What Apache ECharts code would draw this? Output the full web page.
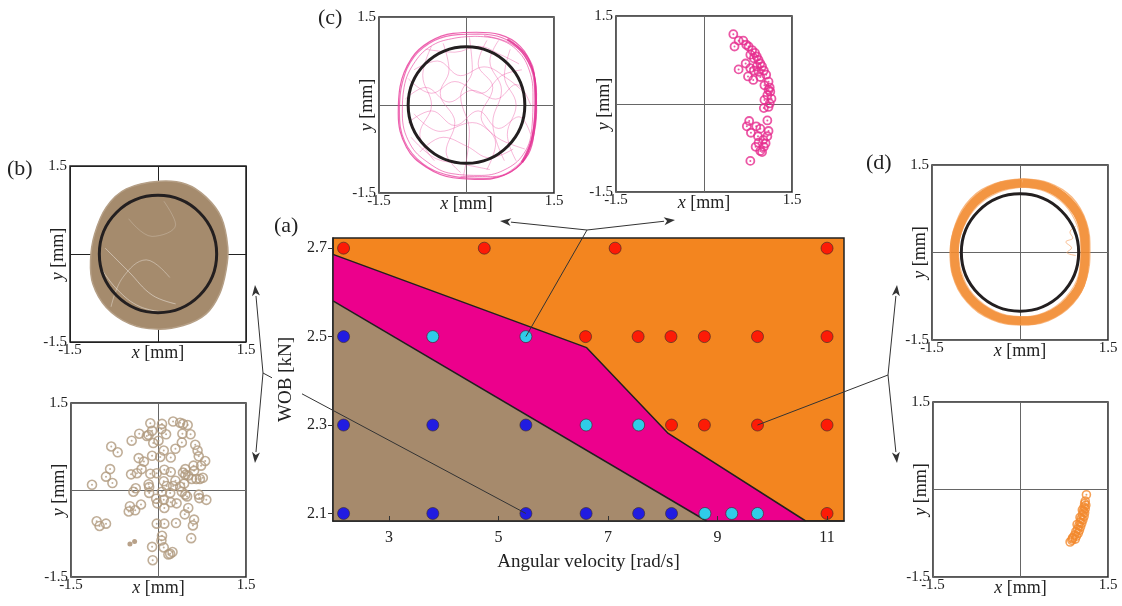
<!DOCTYPE html>
<html>
<head>
<meta charset="utf-8">
<script src="https://cdn.jsdelivr.net/npm/echarts@6/dist/echarts.min.js"></script>
<style>
  html, body { margin: 0; padding: 0; background: #fff; }
  #main { width: 1122px; height: 606px; }
</style>
</head>
<body>
<div id="main"></div>
<script>
'use strict';
var SERIF = '"Liberation Serif", "DejaVu Serif", serif';

// ---- (a) operating map ----
var xTicks = [3, 5, 7, 9, 11];
var yTicks = [2.1, 2.3, 2.5, 2.7];
var redRuns = [[2.17,2.7],[4.74,2.7],[7.13,2.7],[11,2.7],
  [6.59,2.5],[7.55,2.5],[8.15,2.5],[8.76,2.5],[9.73,2.5],[11,2.5],
  [8.16,2.3],[8.76,2.3],[9.73,2.3],[11,2.3],[11,2.1]];
var cyanRuns = [[3.8,2.5],[5.5,2.5],[6.6,2.3],[7.56,2.3],[8.77,2.1],[9.26,2.1],[9.73,2.1]];
var blueRuns = [[2.17,2.5],[2.17,2.3],[3.8,2.3],[5.5,2.3],
  [2.17,2.1],[3.8,2.1],[5.5,2.1],[6.6,2.1],[7.56,2.1],[8.16,2.1]];
var upperBoundary = [[1.977,2.686],[6.61,2.475],[8.10,2.281],[10.61,2.083]];
var lowerBoundary = [[1.977,2.581],[8.80,2.083]];

// ---- (b) ----
var bBlob = [[0.03,1.24],[0.48,1.19],[0.82,0.97],[1.08,0.62],[1.19,0.11],[1.16,-0.28],[1.05,-0.68],
  [0.82,-1.02],[0.43,-1.22],[-0.03,-1.28],[-0.48,-1.19],[-0.88,-0.91],[-1.11,-0.51],[-1.15,-0.11],
  [-1.08,0.34],[-0.88,0.80],[-0.54,1.11]];
var bStreak1 = [[-1.0,-0.2],[-0.7,-0.6],[-0.3,-0.9],[0.2,-1.0]];
var bStreak2 = [[-0.9,0.1],[-0.5,-0.3],[-0.1,-0.7],[0.3,-0.85]];
var bStreak3 = [[-0.8,-0.9],[-0.6,-0.4],[-0.2,-0.1],[0.2,-0.4]];
var bStreak4 = [[-0.5,0.6],[-0.1,0.3],[0.3,0.5],[0.1,0.9]];
var bPoints = [[-0.14,1.15],[0.06,1.14],[0.25,1.18],[0.37,1.16],[0.42,1.14],[0.50,1.12],[0.05,1.05],
  [-0.11,1.02],[-0.17,0.95],[-0.33,0.97],[-0.2,0.93],[0.13,0.96],[0.41,0.97],[0.55,0.96],[-0.46,0.85],
  [0,0.85],[-0.09,0.81],[0.40,0.82],[0.63,0.78],[-0.81,0.75],[-0.70,0.65],[0.09,0.68],[0.29,0.71],
  [0.67,0.68],[0.69,0.58],[-0.34,0.55],[-0.25,0.49],[-0.11,0.59],[0.03,0.57],[0.21,0.56],[0.80,0.50],
  [0.60,0.42],[0.73,0.42],[0.46,0.36],[0.61,0.33],[-0.83,0.36],[-0.90,0.23],[-0.79,0.12],[-1.14,0.09],
  [-0.47,0.27],[-0.37,0.29],[-0.29,0.36],[-0.14,0.28],[-0.03,0.29],[0.10,0.35],[0.21,0.31],[0.09,0.15],
  [0.14,0.07],[0.25,0.07],[0.29,0.16],[0.37,0.06],[0.44,0.11],[0.46,0.26],[0.51,0.25],[0.57,0.19],
  [0.65,0.19],[0.71,0.19],[0.76,0.21],[0.42,0.30],[-0.17,0.10],[-0.16,0.05],[-0.39,0.03],[-0.43,-0.03],
  [-0.16,-0.05],[0.06,-0.03],[0.2,-0.05],[0.40,-0.03],[0.46,-0.08],[0.49,-0.11],[0.69,-0.08],[0.70,-0.14],
  [0.82,-0.17],[-0.04,-0.15],[-0.02,-0.23],[0.09,-0.17],[0.10,-0.31],[0.21,-0.21],[0.31,-0.23],
  [-0.30,-0.25],[-0.49,-0.28],[-0.51,-0.37],[-0.40,-0.35],[0.51,-0.31],[0.45,-0.42],[0.61,-0.51],
  [0.59,-0.61],[-1.06,-0.54],[-1.01,-0.62],[-0.90,-0.58],[-0.03,-0.58],[0.10,-0.58],[0.30,-0.57],
  [0.06,-0.79],[0.05,-0.87],[0.56,-0.83],[-0.11,-0.98],[0.09,-0.99],[0.24,-1.07],[0.17,-1.11],
  [0.20,-1.10],[-0.10,-1.21]];
var bSmall = [[-0.49,-0.93],[-0.41,-0.89]];

// ---- (c) ----
var cLoopA = [[0.17,1.24],[0.57,1.20],[0.92,1.00],[1.12,0.65],[1.20,0.19],[1.17,-0.38],[1.06,-0.84],
  [0.74,-1.15],[0.29,-1.27],[-0.23,-1.24],[-0.69,-1.06],[-1.03,-0.72],[-1.17,-0.15],[-1.14,0.31],
  [-0.94,0.80],[-0.63,1.08],[-0.23,1.22],[0.17,1.24]];
var cLoopB = [[0.15,1.17],[0.55,1.12],[0.88,0.92],[1.08,0.58],[1.14,0.15],[1.12,-0.40],[1.00,-0.80],
  [0.70,-1.08],[0.25,-1.20],[-0.25,-1.17],[-0.66,-0.98],[-0.97,-0.66],[-1.10,-0.15],[-1.07,0.30],
  [-0.88,0.74],[-0.58,1.02],[-0.2,1.14],[0.15,1.17]];
var cLoopC = [[0.2,1.21],[0.6,1.15],[0.95,0.93],[1.16,0.55],[1.18,0.1],[1.14,-0.45],[1.02,-0.88],
  [0.68,-1.18],[0.2,-1.25],[-0.3,-1.2],[-0.75,-1.0],[-1.06,-0.62],[-1.15,-0.1],[-1.1,0.38],
  [-0.9,0.82],[-0.55,1.1],[-0.15,1.2],[0.2,1.21]];
var cLoopD = [[0.3,1.18],[0.75,1.05],[1.05,0.75],[1.18,0.3],[1.16,-0.25],[1.08,-0.7],[0.85,-1.05],
  [0.45,-1.22],[-0.1,-1.22]];
var cEdge = [[0.7,1.12],[1.0,0.85],[1.17,0.4],[1.19,-0.1],[1.12,-0.6],[0.95,-0.98]];
var cPath1 = [[-0.9,0.6],[-0.5,0.75],[-0.1,0.5],[0.3,0.65],[0.7,0.45],[1.0,0.2]];
var cPath2 = [[-1.0,-0.3],[-0.6,-0.1],[-0.2,-0.35],[0.2,-0.1],[0.55,-0.4],[0.9,-0.2],[1.1,-0.5]];
var cPath3 = [[-0.4,1.05],[-0.3,0.6],[-0.45,0.2],[-0.2,-0.3],[-0.35,-0.8],[-0.1,-1.15]];
var cPath4 = [[0.35,1.1],[0.2,0.7],[0.45,0.3],[0.25,-0.2],[0.5,-0.65],[0.35,-1.1]];
var cPath5 = [[-0.8,-0.8],[-0.4,-0.55],[0.0,-0.7],[0.4,-0.9],[0.8,-0.75]];
var cPath6 = [[-0.7,0.95],[-0.2,0.9],[0.2,1.0],[0.6,0.85],[0.9,0.7]];
var cPath7 = [[-1.05,0.1],[-0.7,0.3],[-0.3,0.05],[0.1,0.25],[0.5,0.1],[0.85,0.35],[1.1,0.0]];
var cPath8 = [[0.75,0.95],[0.65,0.5],[0.85,0.0],[0.7,-0.5],[0.85,-0.95]];
var cPath9 = [[-0.95,-0.55],[-0.55,-0.9],[-0.1,-1.0],[0.4,-1.1]];
var cPath10 = [[-0.6,1.0],[-0.75,0.5],[-0.6,0.0],[-0.8,-0.5],[-0.55,-0.95]];
var cPath11 = [[0.05,1.15],[0.1,0.6],[-0.1,0.15],[0.05,-0.45],[-0.05,-1.2]];
var cPath12 = [[-1.0,0.45],[-0.6,0.2],[-0.2,0.4],[0.25,0.2],[0.6,0.5],[0.95,0.6]];
var cPath13 = [[-0.9,-0.15],[-0.45,-0.45],[0.1,-0.3],[0.6,-0.6],[1.0,-0.75]];
var cPath14 = [[0.55,1.1],[0.4,0.75],[0.6,0.25],[0.45,-0.3],[0.65,-0.95]];
var cPoints = [[0.50,1.19],[0.52,0.98],[0.59,1.08],[0.67,1.08],[0.72,1.01],[0.76,0.98],[0.82,0.92],
  [0.87,0.87],[0.90,0.81],[0.93,0.75],[0.96,0.69],[0.99,0.64],[1.02,0.57],[1.06,0.50],[1.10,0.38],
  [1.12,0.28],[1.13,0.21],[1.15,0.09],[1.12,0.01],[1.10,-0.05],[1.03,0.07],[1.02,-0.07],[1.08,0.15],
  [1.03,0.32],[1.10,0.24],[0.85,0.78],[0.79,0.84],[0.71,0.69],[0.59,0.59],[0.75,0.47],[0.84,0.41],
  [0.85,0.57],[0.93,0.55],[0.96,0.46],[0.90,0.64],[0.79,0.61],
  [0.77,-0.29],[0.73,-0.38],[0.80,-0.49],[0.89,-0.38],[0.96,-0.42],[1.08,-0.28],[1.10,-0.46],
  [1.08,-0.55],[1.01,-0.61],[0.93,-0.66],[0.88,-0.73],[0.96,-0.80],[1.02,-0.73],[1.05,-0.67],
  [0.79,-0.97],[0.92,-0.55],[0.99,-0.82]];

// ---- (d) ----
var dRingOuter = [[0.06,1.26],[0.5,1.19],[0.88,0.95],[1.13,0.52],[1.19,0.04],[1.13,-0.45],[0.9,-0.88],
  [0.48,-1.17],[0.0,-1.24],[-0.48,-1.15],[-0.9,-0.85],[-1.15,-0.38],[-1.19,-0.02],[-1.1,0.48],
  [-0.84,0.92],[-0.43,1.18],[0.06,1.26]];
var dRingMid = [[0.05,1.19],[0.46,1.12],[0.82,0.88],[1.06,0.49],[1.11,0.05],[1.07,-0.42],[0.84,-0.83],
  [0.45,-1.10],[0.0,-1.17],[-0.45,-1.08],[-0.85,-0.79],[-1.08,-0.36],[-1.12,0.02],[-1.03,0.46],
  [-0.78,0.86],[-0.4,1.11],[0.05,1.19]];
var dRingInner = [[0.03,1.12],[0.42,1.05],[0.76,0.82],[0.98,0.45],[1.04,0.05],[1.0,-0.38],[0.78,-0.77],
  [0.42,-1.03],[0.0,-1.10],[-0.42,-1.01],[-0.8,-0.72],[-1.0,-0.33],[-1.05,0.05],[-0.96,0.44],
  [-0.72,0.8],[-0.37,1.03],[0.03,1.12]];
var dSquiggle = [[0.95,0.45],[0.85,0.35],[0.9,0.25],[0.78,0.18],[0.88,0.08],[0.8,0.0],[0.95,-0.05]];
var dPoints = [[1.13,-0.09],[1.11,-0.20],[1.10,-0.24],[1.12,-0.27],[1.09,-0.30],[1.11,-0.33],[1.08,-0.37],
  [1.10,-0.40],[1.06,-0.43],[1.09,-0.46],[1.04,-0.50],[1.07,-0.52],[1.02,-0.56],[1.05,-0.58],[1.00,-0.62],
  [1.03,-0.64],[0.98,-0.68],[1.01,-0.70],[0.95,-0.72],[0.99,-0.75],[0.93,-0.78],[0.96,-0.80],[0.90,-0.82],
  [0.94,-0.85],[0.88,-0.87],[0.85,-0.90],[0.89,-0.84],[1.06,-0.35],[1.02,-0.48],[0.97,-0.60]];

var refCircle = [[0, 0, 1]];

var ORANGE = '#f3851f', MAGENTA = '#ec008c', BROWN = '#a68a6c';

var subGrids = [
  {left: 70, top: 166, width: 176, height: 176},   // b top
  {left: 71, top: 403, width: 175, height: 174},   // b bottom
  {left: 379, top: 17, width: 175, height: 176},   // c left
  {left: 616, top: 16, width: 176, height: 176},   // c right
  {left: 932, top: 165, width: 176, height: 175},  // d top
  {left: 933, top: 402, width: 175, height: 175}   // d bottom
];

var grids = [{left: 333, top: 238, width: 511, height: 283, show: true,
  backgroundColor: ORANGE, borderColor: '#222', borderWidth: 1.5, outerBoundsMode: 'none'}];
subGrids.forEach(function (g) {
  grids.push(Object.assign({show: true, backgroundColor: '#fff', borderColor: '#222',
    borderWidth: 1.5, outerBoundsMode: 'none'}, g));
});

var nameStyle = {fontFamily: SERIF, fontSize: 18, color: '#222',
  rich: {i: {fontFamily: SERIF, fontSize: 18, fontStyle: 'italic', color: '#222'}}};
var subLabel = {fontFamily: SERIF, fontSize: 15, color: '#222',
  formatter: function (v) { return v === 0 ? '' : String(v); }};

var xAxes = [{
  type: 'value', gridIndex: 0, min: 1.977, max: 11.31, z: 5,
  name: 'Angular velocity [rad/s]', nameLocation: 'middle', nameGap: 32,
  nameTextStyle: {fontFamily: SERIF, fontSize: 19, color: '#222'},
  axisLine: {show: true, onZero: false, lineStyle: {color: '#222', width: 1.5}},
  axisTick: {show: true, inside: true, length: 5, customValues: xTicks, lineStyle: {color: '#333'}},
  axisLabel: {customValues: xTicks, fontFamily: SERIF, fontSize: 16, color: '#222', margin: 9},
  splitLine: {show: false}
}];
var yAxes = [{
  type: 'value', gridIndex: 0, min: 2.083, max: 2.723, z: 5,
  name: 'WOB [kN]', nameLocation: 'middle', nameGap: 37, nameRotate: 90,
  nameTextStyle: {fontFamily: SERIF, fontSize: 19, color: '#222'},
  axisLine: {show: true, onZero: false, lineStyle: {color: '#222', width: 1.5}},
  axisTick: {show: true, inside: false, length: 5, customValues: yTicks, lineStyle: {color: '#333'}},
  axisLabel: {customValues: yTicks, fontFamily: SERIF, fontSize: 16, color: '#222', margin: 6,
    formatter: function (v) { return v.toFixed(1); }},
  splitLine: {show: false}
}];
for (var i = 1; i <= 6; i++) {
  var cross = (i === 1) ? '#222' : '#666';
  xAxes.push({type: 'value', gridIndex: i, min: -1.5, max: 1.5, interval: 1.5,
    name: '{i|x} [mm]', nameLocation: 'middle', nameGap: 2, nameMoveOverlap: false,
    nameTextStyle: nameStyle,
    axisLine: {show: false, onZero: false}, axisTick: {show: false},
    axisLabel: Object.assign({margin: 1}, subLabel),
    splitLine: {show: true, lineStyle: {color: cross, width: 1}}});
  yAxes.push({type: 'value', gridIndex: i, min: -1.5, max: 1.5, interval: 1.5,
    name: '{i|y} [mm]', nameLocation: 'middle', nameGap: 3, nameRotate: 90, nameMoveOverlap: false,
    nameTextStyle: nameStyle,
    axisLine: {show: false, onZero: false}, axisTick: {show: false},
    axisLabel: Object.assign({margin: 3}, subLabel),
    splitLine: {show: true, lineStyle: {color: cross, width: 1}}});
}

function trace(idx, data, color, width, opacity, z) {
  return {type: 'line', xAxisIndex: idx, yAxisIndex: idx, data: data, smooth: 0.4,
    showSymbol: false, silent: true, z: z || 2,
    lineStyle: {color: color, width: width, opacity: opacity}};
}
function rings(idx, data, color, size, bw) {
  return [
    {type: 'scatter', xAxisIndex: idx, yAxisIndex: idx, data: data, symbolSize: size,
      itemStyle: {color: 'rgba(255,255,255,0)', borderColor: color, borderWidth: bw}},
    {type: 'scatter', xAxisIndex: idx, yAxisIndex: idx, data: data, symbolSize: 2,
      itemStyle: {color: color}}
  ];
}
function circleSeries(idx) {
  return {type: 'custom', xAxisIndex: idx, yAxisIndex: idx, data: refCircle, z: 10,
    encode: {x: 0, y: 1},
    renderItem: function (params, api) {
      var c = api.coord([api.value(0), api.value(1)]);
      var e = api.coord([api.value(0) + api.value(2), api.value(1)]);
      return {type: 'circle', shape: {cx: c[0], cy: c[1], r: e[0] - c[0]},
        style: {fill: 'none', stroke: '#231f20', lineWidth: 3}};
    }};
}
function mainDots(data, color) {
  return {type: 'scatter', xAxisIndex: 0, yAxisIndex: 0, data: data, symbolSize: 12, z: 4,
    itemStyle: {color: color, borderColor: '#3a2a2a', borderWidth: 0.8}};
}

var cThin = [cPath1, cPath2, cPath3, cPath4, cPath5, cPath6, cPath7, cPath8, cPath9,
  cPath10, cPath11, cPath12, cPath13, cPath14];

var series = [
  {type: 'line', xAxisIndex: 0, yAxisIndex: 0, data: upperBoundary, showSymbol: false, z: 2,
    lineStyle: {color: '#231f20', width: 1.5}, areaStyle: {color: MAGENTA, opacity: 1, origin: 'start'}},
  {type: 'line', xAxisIndex: 0, yAxisIndex: 0, data: lowerBoundary, showSymbol: false, z: 3,
    lineStyle: {color: '#231f20', width: 1.5}, areaStyle: {color: BROWN, opacity: 1, origin: 'start'}},
  mainDots(redRuns, '#ff0000'),
  mainDots(cyanRuns, '#00ffff'),
  mainDots(blueRuns, '#0000ff'),
  // (b) top
  {type: 'custom', xAxisIndex: 1, yAxisIndex: 1, data: bBlob, encode: {x: 0, y: 1}, z: 1,
    renderItem: function (params, api) {
      if (params.dataIndex !== 0) return;
      var pts = bBlob.map(function (p) { return api.coord(p); });
      return {type: 'polygon', shape: {points: pts, smooth: 0.35},
        style: {fill: '#a58b6d', stroke: '#b59f86', lineWidth: 1.5}};
    }},
  trace(1, bStreak1, '#ffffff', 0.8, 0.55),
  trace(1, bStreak2, '#ffffff', 0.8, 0.55),
  trace(1, bStreak3, '#ffffff', 0.8, 0.45),
  trace(1, bStreak4, '#ffffff', 0.6, 0.35),
  circleSeries(1),
  // (c) left
  trace(3, cLoopA, '#e8399a', 1.2, 0.8),
  trace(3, cLoopB, '#e8399a', 1, 0.6),
  trace(3, cLoopC, '#e8399a', 1.2, 0.7),
  trace(3, cLoopD, '#e8399a', 1, 0.6),
  trace(3, cEdge, '#e02a8e', 2.5, 0.7),
  circleSeries(3),
  // (d) top
  trace(5, dRingMid, '#f28a2e', 9, 0.9),
  trace(5, dRingOuter, '#f59a4c', 1.5, 0.7),
  trace(5, dRingInner, '#f59a4c', 1.2, 0.6),
  trace(5, dSquiggle, '#f5a060', 0.8, 0.8),
  circleSeries(5),
  {type: 'scatter', xAxisIndex: 2, yAxisIndex: 2, data: bSmall, symbolSize: 5,
    itemStyle: {color: '#a68a6c'}}
].concat(cThin.map(function (p) { return trace(3, p, '#ec5ba8', 0.8, 0.55); }))
 .concat(rings(2, bPoints, '#b09a7e', 9, 1.6))
 .concat(rings(4, cPoints, '#e62d8f', 8, 1.8))
 .concat(rings(6, dPoints, '#f28a2e', 8, 1.6));

var chart = echarts.init(document.getElementById('main'));
chart.setOption({
  animation: false,
  backgroundColor: '#fff',
  grid: grids,
  xAxis: xAxes,
  yAxis: yAxes,
  series: series
});

// leader lines and panel labels
function seg(a, b) {
  return {type: 'line', z: 100, shape: {x1: a[0], y1: a[1], x2: b[0], y2: b[1]},
    style: {stroke: '#333', lineWidth: 1}};
}
function arrow(a, b) {
  var dx = b[0] - a[0], dy = b[1] - a[1], L = Math.hypot(dx, dy), ux = dx / L, uy = dy / L;
  var hl = 11, hw = 4;
  var base = [b[0] - ux * hl, b[1] - uy * hl];
  return [seg(a, base),
    {type: 'polygon', z: 100, shape: {points: [b, [base[0] - uy * hw, base[1] + ux * hw],
      [b[0] - ux * (hl - 3), b[1] - uy * (hl - 3)], [base[0] + uy * hw, base[1] - ux * hw]]},
      style: {fill: '#333'}}];
}
function label(t, x, y) {
  return {type: 'text', x: x, y: y, z: 100,
    style: {text: t, font: '22px ' + SERIF, fill: '#222'}};
}
var toPx = function (p) { return chart.convertToPixel({xAxisIndex: 0, yAxisIndex: 0}, p); };
var p1 = toPx([5.5, 2.5]), p2 = toPx([5.5, 2.1]), p3 = toPx([9.73, 2.3]);
var J1 = [587, 230], J2 = [263, 373], J3 = [888, 375];
function along(a, b, x) { var t = (x - a[0]) / (b[0] - a[0]); return [x, a[1] + t * (b[1] - a[1])]; }
var g = [seg(p1, J1)].concat(arrow(J1, [500, 221]), arrow(J1, [675, 220]));
g.push(seg(J2, along(J2, p2, 272)), seg(along(J2, p2, 302), p2));
g = g.concat(arrow(J2, [255, 285]), arrow(J2, [255, 463]));
g.push(seg(p3, J3));
g = g.concat(arrow(J3, [897, 285]), arrow(J3, [897, 463]));
g.push(label('(a)', 274, 215), label('(b)', 7, 158), label('(c)', 318, 7), label('(d)', 866, 152));
chart.setOption({graphic: g});
</script>
</body>
</html>
